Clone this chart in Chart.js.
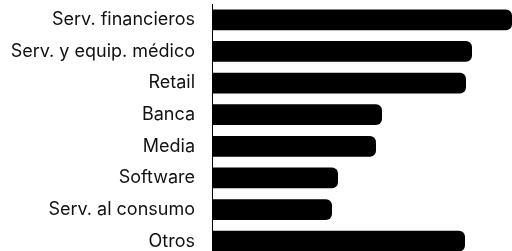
<!DOCTYPE html>
<html lang="es">
<head>
    <meta charset="UTF-8">
    <title>Sectores</title>
    <script src="https://cdn.jsdelivr.net/npm/chart.js"></script>
    <style>
        html, body {
            margin: 0;
            padding: 0;
            overflow: hidden;
            background: #fff;
        }
        #wrap {
            position: relative;
            width: 512px;
            height: 257px;
        }
    </style>
</head>
<body>
    <div id="wrap"><canvas id="sectorChart"></canvas></div>

    <script>
        // Sector labels and values
        const sectors = [
            "Serv. financieros",
            "Serv. y equip. médico",
            "Retail",
            "Banca",
            "Media",
            "Software",
            "Serv. al consumo",
            "Otros"
        ];
        const values = [30, 26, 25.4, 17, 16.4, 12.6, 12, 25.3];

        const ctx = document.getElementById("sectorChart").getContext("2d");
        new Chart(ctx, {
            type: "bar",
            data: {
                labels: sectors,
                datasets: [{
                    data: values,
                    backgroundColor: "#000",
                    borderRadius: 6,
                    borderSkipped: "start",
                    categoryPercentage: 1,
                    barPercentage: 0.66
                }]
            },
            options: {
                indexAxis: "y",
                responsive: true,
                maintainAspectRatio: false,
                animation: false,
                layout: { padding: { top: 4, right: 0, bottom: 0, left: 0 } },
                plugins: {
                    legend: { display: false },
                    tooltip: { enabled: false }
                },
                scales: {
                    x: {
                        display: false,
                        min: 0,
                        max: 30
                    },
                    y: {
                        grid: { display: false, drawTicks: false },
                        border: { display: true, color: "#000", width: 1 },
                        ticks: {
                            padding: 17,
                            color: "#111",
                            font: { family: "Inter", size: 18 }
                        },
                        afterFit: (scale) => {
                            // fixed label column, no extra room above/below
                            scale.width = 212;
                            scale.paddingTop = 0;
                            scale.paddingBottom = 0;
                        }
                    }
                }
            }
        });
    </script>
</body>
</html>
